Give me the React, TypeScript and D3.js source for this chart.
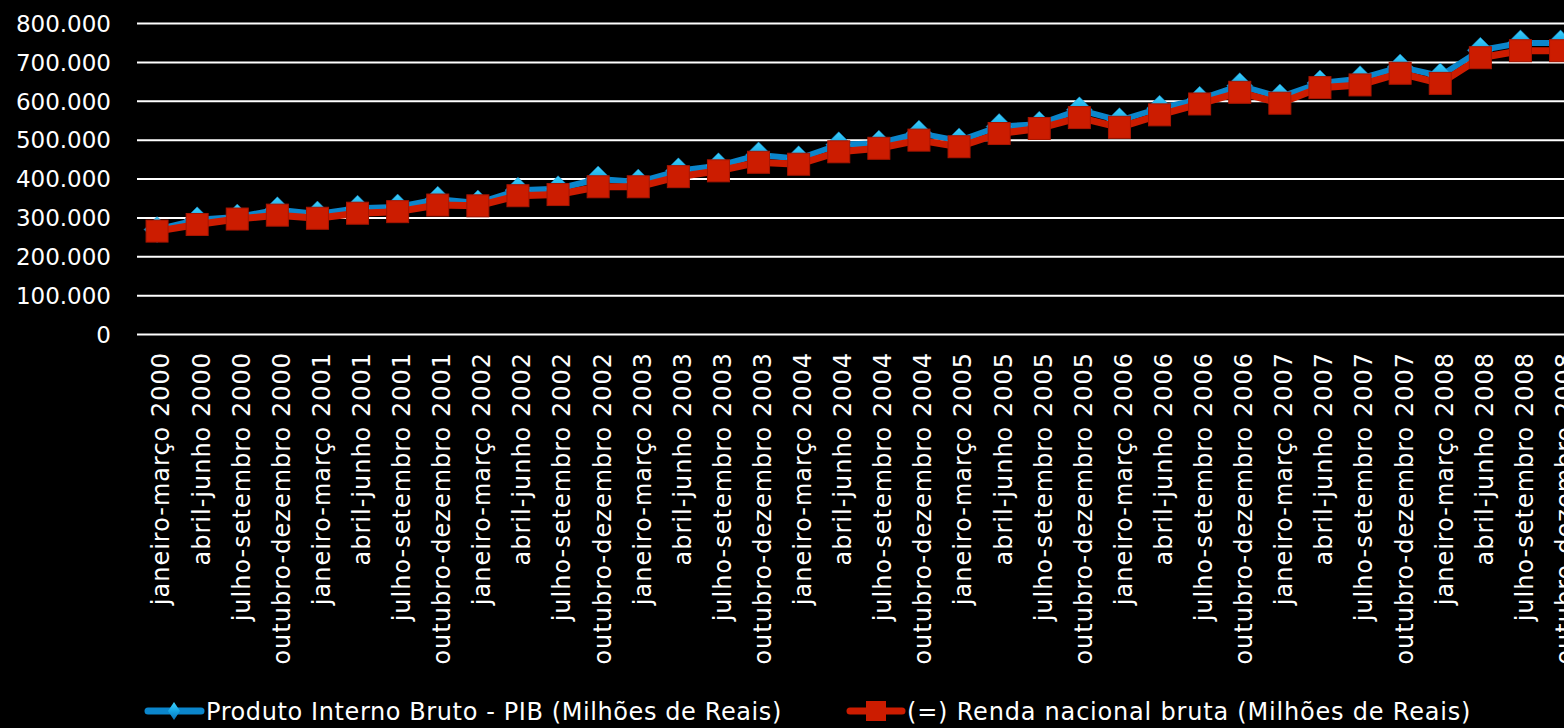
import React from 'react';
import * as d3 from 'd3';

const width = 1564;
const height = 728;
const margin = { top: 23.5, left: 137, bottom: 393.5 };
const bandWidth = 40.1;

const quarters = ['janeiro-março', 'abril-junho', 'julho-setembro', 'outubro-dezembro'];
const years = [2000, 2001, 2002, 2003, 2004, 2005, 2006, 2007, 2008];
const categories = years.flatMap((y) => quarters.map((q) => `${q} ${y}`));

// Produto Interno Bruto - PIB (Milhões de Reais)
const pib = [
  270000, 295000, 302000, 321000, 310000, 325000, 328000, 348000, 338000,
  371000, 375000, 400000, 392000, 421000, 434000, 462000, 452000, 488000,
  492000, 518000, 498000, 535000, 541000, 578000, 550000, 582000, 605000,
  640000, 611000, 647000, 658000, 688000, 665000, 731000, 750000, 750000,
];

// (=) Renda nacional bruta (Milhões de Reais)
const rnb = [
  266000, 283000, 297000, 307000, 299000, 312000, 316000, 333000, 331000,
  357000, 360000, 380000, 380000, 406000, 421000, 443000, 438000, 470000,
  479000, 500000, 483000, 517000, 530000, 558000, 533000, 565000, 593000,
  623000, 595000, 635000, 642000, 672000, 646000, 712000, 730000, 730000,
];

const yTicks = [0, 100000, 200000, 300000, 400000, 500000, 600000, 700000, 800000];
const seriesNames = [
  'Produto Interno Bruto - PIB (Milhões de Reais)',
  '(=) Renda nacional bruta (Milhões de Reais)',
];

const font = '"DejaVu Sans", sans-serif';
const blue = '#0b86cc';
const red = '#cc1c00';

const fmt = (v: number) => (v === 0 ? '0' : d3.format(',')(v).replace(/,/g, '.'));

export default function App() {
  const x = d3
    .scaleBand<string>()
    .domain(categories)
    .range([margin.left, margin.left + bandWidth * categories.length])
    .padding(0);
  const y = d3.scaleLinear().domain([0, 800000]).range([334.5, margin.top]);
  const cx = (i: number) => (x(categories[i]) as number) + x.bandwidth() / 2;

  const line = d3
    .line<number>()
    .x((_, i) => cx(i))
    .y((d) => y(d));

  const diamond = (px: number, py: number, r: number) =>
    `M${px},${py - r}L${px + r},${py}L${px},${py + r}L${px - r},${py}Z`;

  return (
    <div style={{ position: 'absolute', left: 0, top: 0, width, height, background: '#000' }}>
      <svg width={width} height={height} style={{ display: 'block' }}>
        <defs>
          <linearGradient id="dia" x1="0" y1="0" x2="0" y2="1">
            <stop offset="0" stopColor="#3fd0fa" />
            <stop offset="0.5" stopColor="#14a6e6" />
            <stop offset="1" stopColor="#0a74b8" />
          </linearGradient>
        </defs>
        <rect width={width} height={height} fill="#000" />

        {yTicks.map((t) => (
          <g key={t}>
            <line x1={margin.left} x2={width} y1={y(t)} y2={y(t)} stroke="#fff" strokeWidth={2} />
            <text
              x={111}
              y={y(t)}
              dy="0.36em"
              textAnchor="end"
              fill="#fff"
              fontFamily={font}
              fontSize={23}
            >
              {fmt(t)}
            </text>
          </g>
        ))}

        {categories.map((c, i) => (
          <text
            key={c}
            transform={`translate(${cx(i) + 4},352) rotate(-90)`}
            dy="0.35em"
            textAnchor="end"
            fill="#fff"
            fontFamily={font}
            fontSize={24}
            letterSpacing={1}
          >
            {c}
          </text>
        ))}

        <path d={line(pib) || ''} fill="none" stroke={blue} strokeWidth={6} strokeLinejoin="round" />
        {pib.map((v, i) => (
          <path key={i} d={diamond(cx(i), y(v), 13)} fill="url(#dia)" stroke="#0a78c0" strokeWidth={0.5} />
        ))}

        <path d={line(rnb) || ''} fill="none" stroke={red} strokeWidth={7} strokeLinejoin="round" />
        {rnb.map((v, i) => (
          <rect
            key={i}
            x={cx(i) - 11}
            y={y(v) - 11}
            width={22}
            height={22}
            fill={red}
            stroke="#a81500"
            strokeWidth={1}
          />
        ))}

        {/* legend */}
        <g>
          <line x1={148} x2={201} y1={711} y2={711} stroke={blue} strokeWidth={7} strokeLinecap="round" />
          <path d={`M174,702L180,711L174,720L168,711Z`} fill="url(#dia)" />
          <text x={206} y={711} dy="0.36em" fill="#fff" fontFamily={font} fontSize={24} letterSpacing={0.6}>
            {seriesNames[0]}
          </text>
          <line x1={850} x2={902} y1={711} y2={711} stroke={red} strokeWidth={7} strokeLinecap="round" />
          <rect x={866} y={701} width={20} height={20} fill={red} />
          <text x={907} y={711} dy="0.36em" fill="#fff" fontFamily={font} fontSize={24} letterSpacing={0.8}>
            {seriesNames[1]}
          </text>
        </g>
      </svg>
    </div>
  );
}
